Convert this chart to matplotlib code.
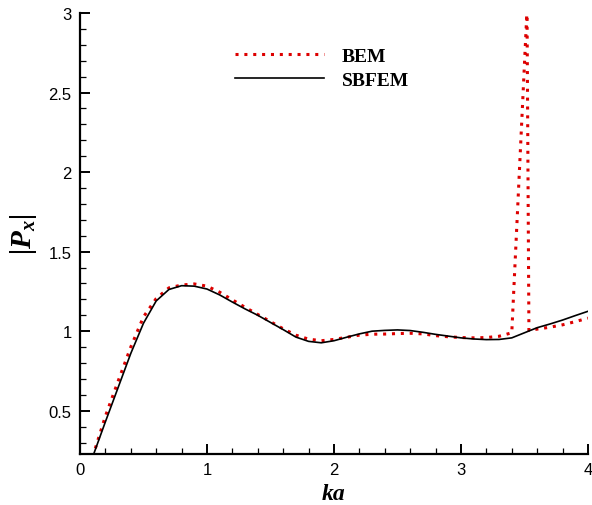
import matplotlib
matplotlib.use("Agg")
import matplotlib.pyplot as plt
from matplotlib.ticker import MultipleLocator

plt.rcParams['mathtext.fontset'] = 'custom'
plt.rcParams['mathtext.bf'] = 'Liberation Serif:italic:bold'
plt.rcParams['mathtext.it'] = 'Liberation Serif:italic:bold'
plt.rcParams['mathtext.rm'] = 'Liberation Serif:italic:bold'

# |Px| against ka, SBFEM result
ka_sbfem = [0.1, 0.2, 0.3, 0.4, 0.5, 0.6, 0.7, 0.8, 0.9, 1.0,
            1.1, 1.2, 1.3, 1.4, 1.5, 1.6, 1.7, 1.8, 1.9, 2.0,
            2.1, 2.2, 2.3, 2.4, 2.5, 2.6, 2.7, 2.8, 2.9, 3.0,
            3.1, 3.2, 3.3, 3.4, 3.5, 3.6, 3.7, 3.8, 3.9, 4.0]
px_sbfem = [0.21, 0.43, 0.645, 0.86, 1.05, 1.19, 1.262, 1.286, 1.283, 1.265,
            1.228, 1.183, 1.14, 1.10, 1.055, 1.01, 0.963, 0.936, 0.927, 0.94,
            0.962, 0.983, 1.0, 1.005, 1.008, 1.004, 0.993, 0.98, 0.969, 0.958,
            0.951, 0.947, 0.948, 0.958, 0.99, 1.022, 1.045, 1.07, 1.098, 1.125]

# BEM result, with the spurious spike near ka = 3.5
ka_bem = [0.1, 0.2, 0.3, 0.4, 0.5, 0.6, 0.7, 0.8, 0.9, 1.0,
          1.1, 1.2, 1.3, 1.4, 1.5, 1.6, 1.7, 1.8, 1.9, 2.0,
          2.1, 2.2, 2.3, 2.4, 2.5, 2.6, 2.7, 2.8, 2.9, 3.0,
          3.1, 3.2, 3.3, 3.4, 3.52, 3.535, 3.6, 3.7, 3.8, 3.9, 4.0]
px_bem = [0.21, 0.465, 0.685, 0.9, 1.09, 1.205, 1.272, 1.29, 1.297, 1.283,
          1.245, 1.197, 1.15, 1.105, 1.06, 1.015, 0.975, 0.95, 0.94, 0.948,
          0.962, 0.975, 0.981, 0.982, 0.985, 0.987, 0.983, 0.972, 0.965, 0.96,
          0.958, 0.96, 0.968, 0.99, 3.02, 1.005, 1.013, 1.025, 1.04, 1.06, 1.082]

xticks = [0, 1, 2, 3, 4]
yticks = [0.5, 1, 1.5, 2, 2.5, 3]
ytick_labels = ['0.5', '1', '1.5', '2', '2.5', '3']

fig = plt.figure(figsize=(5.92, 5.06), dpi=100)
ax = fig.add_axes([0.1351, 0.1008, 0.8581, 0.8715])

ax.plot(ka_bem, px_bem, color='#dd0000', lw=2.2, linestyle=(0, (1, 1.9)),
        dash_capstyle='butt', label='BEM')
ax.plot(ka_sbfem, px_sbfem, color='black', lw=1.2, label='SBFEM')

ax.set_xlim(0, 4)
ax.set_ylim(0.228, 3)
ax.set_xticks(xticks)
ax.set_xticklabels([str(t) for t in xticks])
ax.set_yticks(yticks)
ax.set_yticklabels(ytick_labels)
ax.xaxis.set_minor_locator(MultipleLocator(0.2))
ax.yaxis.set_minor_locator(MultipleLocator(0.1))

for s in ['top', 'right']:
    ax.spines[s].set_visible(False)
for s in ['left', 'bottom']:
    ax.spines[s].set_linewidth(1.6)

ax.tick_params(which='major', direction='in', length=7.5, width=1.4,
               labelsize=12, pad=6)
ax.tick_params(which='minor', direction='in', length=4.5, width=0.9)
for lab in ax.get_xticklabels() + ax.get_yticklabels():
    lab.set_fontfamily('Liberation Sans')

ax.set_xlabel('ka', fontfamily='Liberation Serif', fontweight='bold',
              fontstyle='italic', fontsize=17, labelpad=4)
ax.set_ylabel(r'|$\mathbf{P_x}$|', fontfamily='Liberation Serif',
              fontweight='bold', fontstyle='italic', fontsize=21, labelpad=7)

ax.legend(loc='upper left', bbox_to_anchor=(0.27, 0.962), frameon=False,
          handlelength=4.6, handletextpad=0.9, labelspacing=0.35,
          prop={'family': 'Liberation Serif', 'weight': 'bold', 'size': 14})

fig.savefig('out.png', dpi=100)
